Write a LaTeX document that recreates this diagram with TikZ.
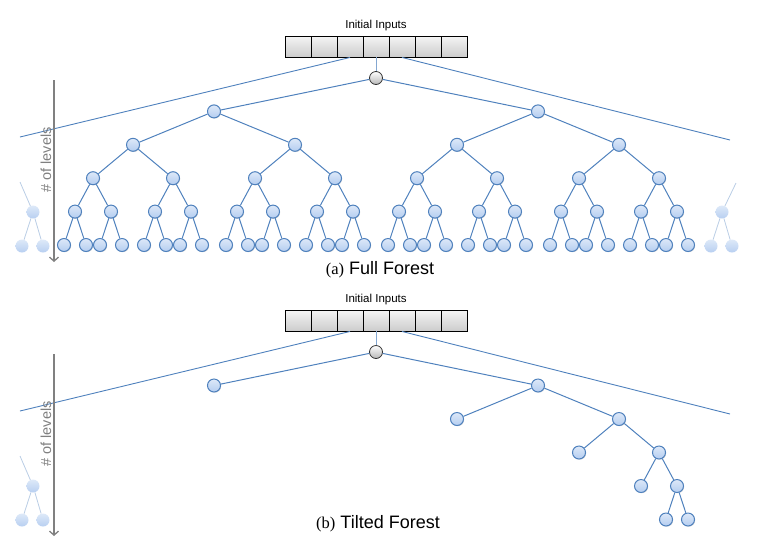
\documentclass[tikz,border=0pt]{standalone}
\usepackage{fontspec}
\setmainfont{Liberation Sans}
\newfontfamily\capserif{Liberation Serif}
\usetikzlibrary{arrows.meta, positioning, shadows, calc}

\definecolor{edgeblue}{RGB}{79,129,189}
\definecolor{nodeblue}{RGB}{180,205,240}
\definecolor{levelgray}{RGB}{128,128,128}

\begin{document}
\begin{tikzpicture}[
    x=1pt, y=-1pt,
    leaf/.style={
        circle,
        draw=edgeblue,
        line width=1pt,
        top color=white!55!nodeblue,
        bottom color=nodeblue,
        minimum size=13pt,
        inner sep=0pt,
        drop shadow={shadow xshift=0.7pt, shadow yshift=-0.7pt, opacity=0.3}
    },
    faded/.style={
        circle,
        draw=none,
        top color=nodeblue!45,
        bottom color=nodeblue!95,
        minimum size=13pt,
        inner sep=0pt
    },
    rootnode/.style={
        circle,
        draw=black!80,
        line width=0.8pt,
        top color=white,
        bottom color=black!28,
        minimum size=13pt,
        inner sep=0pt
    },
    cell/.style={
        rectangle,
        draw=black,
        line width=0.9pt,
        top color=black!4,
        bottom color=black!20,
        minimum width=26pt,
        minimum height=21pt,
        inner sep=0pt,
        drop shadow={shadow xshift=0.8pt, shadow yshift=-0.8pt, opacity=0.3}
    },
    edge/.style={draw=edgeblue, line width=1pt},
    fadededge/.style={draw=edgeblue!40, line width=0.8pt},
    span/.style={draw=edgeblue, line width=0.9pt},
    levels/.style={
        draw=levelgray,
        line width=1.3pt,
        -{Straight Barb[length=4pt, width=9pt]}
    },
    levellabel/.style={
        text=levelgray,
        rotate=90,
        font=\fontsize{14.5}{16}\selectfont
    }
]
\useasboundingbox (0,0) rectangle (766,550);

% Shared parts of both panels
\foreach \pn/\yo in {a/0, b/274} {
    \node [font=\fontsize{11.5}{13}\selectfont] (\pn label) at (376, {26+\yo}) {Initial Inputs};
    \coordinate (\pn west) at (20, {137+\yo});
    \coordinate (\pn east) at (730, {140+\yo});
    \coordinate (\pn top) at (54, {80+\yo});
    \coordinate (\pn bottom) at (54, {262+\yo});
    \coordinate (\pn ghosttop) at (20, {182+\yo});
    \node [rootnode] (\pn1) at (376, {78+\yo}) {};
    \foreach \c in {1,...,7}
        \node [cell] (\pn cell\c) at ({272+26*\c}, {46.5+\yo}) {};
    \path [span] (\pn cell3.south) -- (\pn west);
    \path [span] (\pn cell5.south) -- (\pn east);
    \path [span, draw=edgeblue!70] (\pn cell4.south) -- (\pn1);
    % cut-off tree on the left
    \node [faded] (\pn ghost) at (33, {212+\yo}) {};
    \node [faded] (\pn ghostl) at (22, {246+\yo}) {};
    \node [faded] (\pn ghostr) at (43, {246+\yo}) {};
    \path [fadededge] (\pn ghosttop) -- (\pn ghost);
    \path [fadededge] (\pn ghost) -- (\pn ghostl);
    \path [fadededge] (\pn ghost) -- (\pn ghostr);
    % depth axis
    \path [levels] (\pn top) -- (\pn bottom);
    \node [levellabel] (\pn levtext) at (46, {160+\yo}) {\# of levels};
}

% (a) full tree
\foreach \l/\dx in {1/162, 2/81, 3/40, 4/18, 5/11} {
    \pgfmathtruncatemacro\lo{2^\l}
    \pgfmathtruncatemacro\hi{2^(\l+1)-1}
    \foreach \i in {\lo,...,\hi} {
        \pgfmathtruncatemacro\p{floor(\i/2)}
        \pgfmathtruncatemacro\s{2*mod(\i,2)-1}
        \node [leaf] (a\i) at ($(a\p)+(\s*\dx,33.4)$) {};
        \path [edge] (a\p) -- (a\i);
    }
}

% cut-off tree on the right
\coordinate (aghostRtop) at (736,183);
\node [faded] (aghostR) at (722,212) {};
\node [faded] (aghostRl) at (711,246) {};
\node [faded] (aghostRr) at (732,246) {};
\path [fadededge] (aghostRtop) -- (aghostR);
\path [fadededge] (aghostR) -- (aghostRl);
\path [fadededge] (aghostR) -- (aghostRr);

% (b) tilted tree, only the right branch grows
\foreach \l/\dx in {1/162, 2/81, 3/40, 4/18, 5/11} {
    \pgfmathtruncatemacro\p{2^\l-1}
    \pgfmathtruncatemacro\lc{2^(\l+1)-2}
    \pgfmathtruncatemacro\rc{2^(\l+1)-1}
    \node [leaf] (b\lc) at ($(b\p)+(-\dx,33.5)$) {};
    \node [leaf] (b\rc) at ($(b\p)+(\dx,33.5)$) {};
    \path [edge] (b\p) -- (b\lc);
    \path [edge] (b\p) -- (b\rc);
}

% Captions
\node [font=\fontsize{18}{20}\selectfont] (acap) at (380,270)
    {{\capserif\fontsize{16.5}{18}\selectfont(a)} Full Forest};
\node [font=\fontsize{18}{20}\selectfont] (bcap) at (378,524)
    {{\capserif\fontsize{16.5}{18}\selectfont(b)} Tilted Forest};

\end{tikzpicture}
\end{document}
